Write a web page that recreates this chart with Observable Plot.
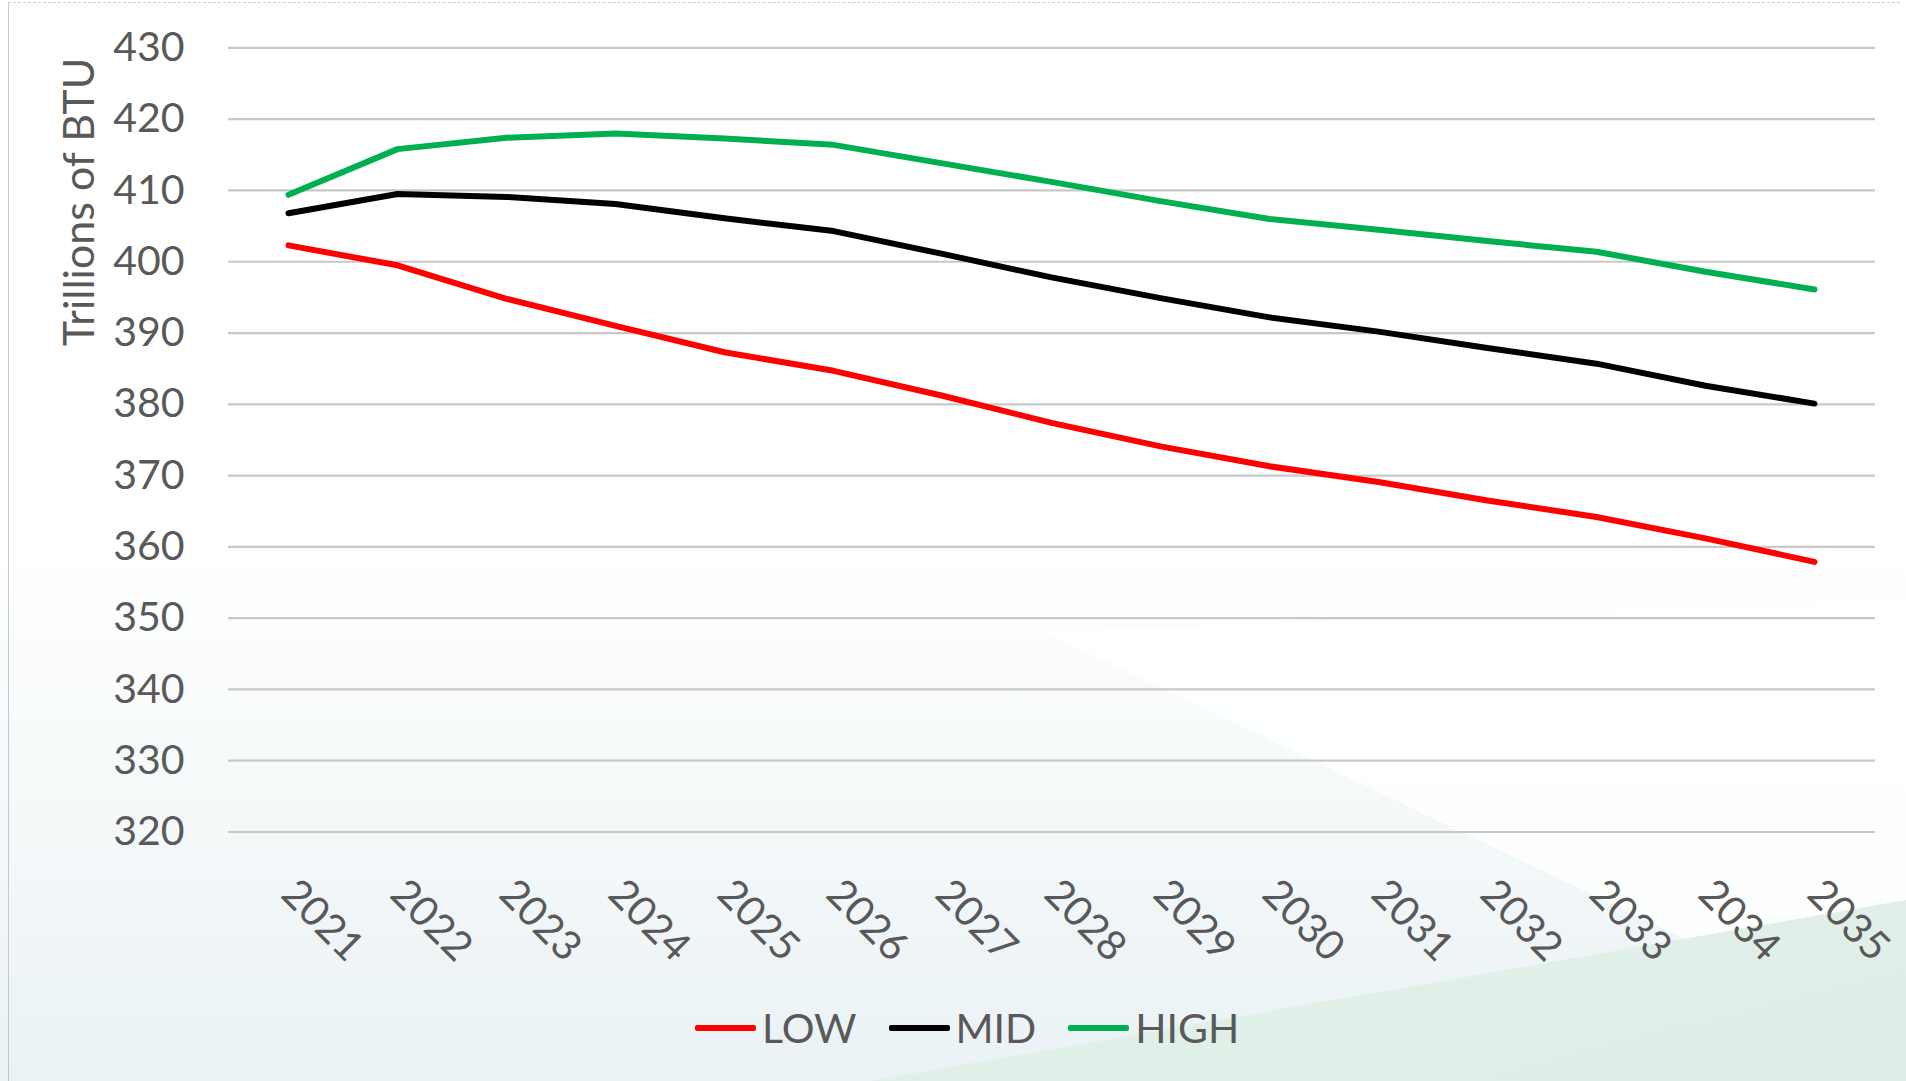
<!DOCTYPE html>
<html>
<head>
<meta charset="utf-8">
<script src="https://cdn.jsdelivr.net/npm/d3@7"></script>
<script src="https://cdn.jsdelivr.net/npm/@observablehq/plot@0.6"></script>
<style>
  html, body { margin: 0; padding: 0; width: 1906px; height: 1081px; overflow: hidden; background: #fff; font-family: Lato, "Open Sans", sans-serif; }
  #bg { position: absolute; left: 0; top: 0; width: 1906px; height: 1081px;
        background: linear-gradient(180deg, #ffffff 0%, #ffffff 50%, #f5f9fa 74%, #eaf2f5 100%); }
  #wedge { position: absolute; left: 0; top: 0; width: 1906px; height: 1081px;
        background: rgba(255,255,255,0.85);
        clip-path: polygon(1045px 632px, 1906px 1045px, 1906px 600px); }
  #green { position: absolute; left: 0; top: 0; width: 1906px; height: 1081px;
        background: linear-gradient(165deg, #eef7f2 0%, #deeee6 100%);
        clip-path: polygon(870px 1081px, 1906px 900px, 1906px 1081px); }
  #frame { position: absolute; left: 8px; top: 2px; width: 1892px; height: 1079px;
        border-left: 1.5px solid #c4c8cc; border-top: 1.5px dashed #d0d0d0; box-sizing: border-box; }
  #chart { position: absolute; left: 0; top: 0; }
  #ytitle { position: absolute; left: 77px; top: 202px; transform: translate(-50%, -50%) rotate(-90deg);
        font-size: 43px; color: #595959; white-space: nowrap; line-height: 1; }
  #legend { position: absolute; left: 695px; top: 1003px; display: flex; align-items: center; font-size: 41px; color: #595959; white-space: nowrap; }
  .item { display: flex; align-items: center; margin-right: 32px; }
  .sw { display: inline-block; width: 61px; height: 6px; margin-right: 6px; border-radius: 2px; }
</style>
</head>
<body>
<div id="bg"></div>
<div id="wedge"></div>
<div id="green"></div>
<div id="frame"></div>
<div id="chart"></div>
<div id="ytitle"></div>
<div id="legend"></div>
<script>
// ---- data ----
const years = ["2021","2022","2023","2024","2025","2026","2027","2028","2029","2030","2031","2032","2033","2034","2035"];
const seriesNames = ["LOW", "MID", "HIGH"];
const seriesColors = ["#ff0000", "#000000", "#00b050"];
const lowValues  = [402.3, 399.5, 394.8, 391.0, 387.3, 384.7, 381.2, 377.4, 374.1, 371.3, 369.1, 366.5, 364.2, 361.2, 357.9];
const midValues  = [406.8, 409.5, 409.1, 408.1, 406.1, 404.3, 401.1, 397.8, 394.9, 392.2, 390.2, 387.9, 385.7, 382.6, 380.1];
const highValues = [409.4, 415.8, 417.4, 418.0, 417.3, 416.4, 413.8, 411.2, 408.5, 406.0, 404.5, 402.9, 401.4, 398.6, 396.1];
const yTicks = [320, 330, 340, 350, 360, 370, 380, 390, 400, 410, 420, 430];
const yTitle = "Trillions of BTU";

const valuesBySeries = [lowValues, midValues, highValues];
const data = seriesNames.flatMap((name, s) =>
  years.map((year, i) => ({ year, value: valuesBySeries[s][i], series: name })));

const textColor = "#595959";
const chart = Plot.plot({
  width: 1906,
  height: 975,
  marginTop: 47.4,
  marginBottom: 143.5,
  marginLeft: 228,
  marginRight: 31,
  style: { background: "transparent", fontFamily: "Lato, 'Open Sans', sans-serif", color: textColor, overflow: "visible" },
  x: { type: "point", domain: years, range: [283.2, 1819.7], padding: 0, label: null },
  y: { domain: [320, 430], label: null },
  color: { domain: seriesNames, range: seriesColors },
  marks: [
    Plot.ruleY(yTicks, { stroke: "#c8c8c8", strokeWidth: 2.2 }),
    Plot.axisY({ ticks: yTicks, tickSize: 0, tickPadding: 44, fontSize: 41, label: null, fill: textColor }),
    Plot.axisX({ tickSize: 0, tickRotate: 45, tickPadding: 55, fontSize: 41, label: null, fill: textColor }),
    Plot.line(data, { x: "year", y: "value", z: "series", stroke: "series", strokeWidth: 6, strokeLinejoin: "round", strokeLinecap: "round" })
  ]
});
document.getElementById("chart").appendChild(chart);
document.getElementById("ytitle").textContent = yTitle;

const legend = document.getElementById("legend");
seriesNames.forEach((name, i) => {
  const item = document.createElement("div");
  item.className = "item";
  const sw = document.createElement("span");
  sw.className = "sw";
  sw.style.background = seriesColors[i];
  const label = document.createElement("span");
  label.textContent = name;
  item.appendChild(sw);
  item.appendChild(label);
  legend.appendChild(item);
});
</script>
</body>
</html>
